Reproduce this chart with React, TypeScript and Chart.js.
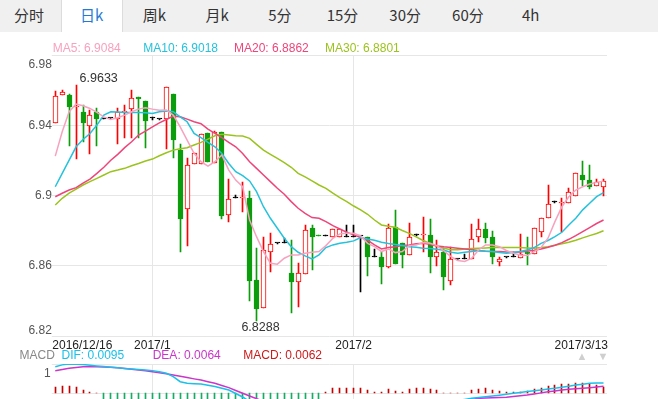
import React, { useEffect, useRef } from 'react';
import { Chart, registerables } from 'chart.js';

Chart.register(...registerables);

// ---------- data ----------
const opens = [6.9413,6.9573,6.9575,6.9510,6.9476,6.9398,6.9476,6.9440,6.9445,6.9436,
6.9480,6.9493,6.9563,6.9541,6.9442,6.9438,6.9436,6.9580,6.9261,6.8923,
6.9180,6.9180,6.9358,6.9185,6.9366,6.8891,6.8986,6.8985,6.8988,6.8518,
6.8359,6.8678,6.8729,6.8729,6.8560,6.8511,6.8552,6.8817,6.8775,6.8773,
6.8767,6.8767,6.8767,6.8767,6.8771,6.8767,6.8649,6.8649,6.8596,6.8820,
6.8730,6.8663,6.8777,6.8775,6.8777,6.8649,6.8682,6.8516,6.8640,6.8640,
6.8638,6.8763,6.8811,6.8763,6.8621,6.8649,6.8649,6.8647,6.8678,6.8666,
6.8796,6.8872,6.8965,6.8961,6.8957,6.9001,6.9119,6.9090,6.9056,6.9052];

const highs = [6.9600,6.9605,6.9579,6.9633,6.9518,6.9489,6.9503,6.9442,6.9447,6.9499,
6.9518,6.9605,6.9563,6.9541,6.9451,6.9440,6.9619,6.9580,6.9297,6.9216,
6.9242,6.9355,6.9358,6.9370,6.9366,6.9094,6.9005,6.9077,6.9030,6.8705,
6.8767,6.8786,6.8731,6.8758,6.8748,6.8615,6.8834,6.8834,6.8777,6.8775,
6.8809,6.8809,6.8834,6.8834,6.8773,6.8767,6.8695,6.8682,6.8838,6.8917,
6.8730,6.8843,6.8781,6.8881,6.8868,6.8748,6.8701,6.8710,6.8642,6.8667,
6.8840,6.8868,6.8843,6.8801,6.8653,6.8651,6.8682,6.8781,6.8767,6.8815,
6.8876,6.9062,6.8970,6.8986,6.9043,6.9128,6.9199,6.9176,6.9096,6.9096];

const lows = [6.9413,6.9573,6.9286,6.9210,6.9305,6.9238,6.9286,6.9438,6.9443,6.9294,
6.9332,6.9333,6.9328,6.9275,6.9432,6.9436,6.9267,6.9218,6.8678,6.8716,
6.9180,6.9180,6.9195,6.9185,6.8868,6.8849,6.8986,6.8906,6.8397,6.8288,
6.8359,6.8564,6.8727,6.8729,6.8330,6.8368,6.8552,6.8577,6.8768,6.8771,
6.8767,6.8767,6.8767,6.8767,6.8451,6.8545,6.8649,6.8496,6.8587,6.8611,
6.8591,6.8663,6.8771,6.8682,6.8558,6.8602,6.8463,6.8492,6.8638,6.8640,
6.8638,6.8735,6.8729,6.8610,6.8602,6.8647,6.8649,6.8647,6.8606,6.8666,
6.8767,6.8872,6.8960,6.8796,6.8957,6.9001,6.9056,6.9037,6.9056,6.9001];

const closes = [6.9569,6.9590,6.9508,6.9515,6.9417,6.9459,6.9436,6.9440,6.9445,6.9476,
6.9487,6.9556,6.9554,6.9429,6.9442,6.9438,6.9619,6.9320,6.8870,6.9174,
6.9242,6.9352,6.9195,6.9366,6.8887,6.8980,6.8986,6.8988,6.8516,6.8355,
6.8691,6.8724,6.8729,6.8729,6.8511,6.8558,6.8805,6.8767,6.8770,6.8773,
6.8809,6.8809,6.8767,6.8767,6.8771,6.8649,6.8649,6.8596,6.8815,6.8611,
6.8663,6.8767,6.8777,6.8779,6.8649,6.8682,6.8534,6.8638,6.8640,6.8640,
6.8752,6.8811,6.8762,6.8649,6.8638,6.8649,6.8649,6.8666,6.8668,6.8815,
6.8876,6.8953,6.8965,6.8965,6.9020,6.9128,6.9090,6.9052,6.9077,6.9085];

const ma5 = [6.9227,6.9366,6.9480,6.9524,6.9514,6.9499,6.9476,6.9451,6.9436,6.9446,
6.9461,6.9480,6.9495,6.9503,6.9495,6.9488,6.9490,6.9461,6.9394,6.9318,
6.9242,6.9195,6.9170,6.9195,6.9233,6.9147,6.9090,6.9052,6.8862,6.8767,
6.8682,6.8615,6.8610,6.8644,6.8663,6.8663,6.8672,6.8678,6.8682,6.8716,
6.8758,6.8783,6.8786,6.8786,6.8771,6.8729,6.8710,6.8682,6.8697,6.8676,
6.8682,6.8716,6.8720,6.8733,6.8729,6.8716,6.8686,6.8653,6.8631,6.8625,
6.8644,6.8691,6.8720,6.8720,6.8710,6.8688,6.8672,6.8663,6.8659,6.8682,
6.8705,6.8758,6.8853,6.8938,6.8995,6.9033,6.9052,6.9068,6.9077,6.9084];

const ma10 = [6.9052,6.9128,6.9204,6.9280,6.9322,6.9356,6.9404,6.9461,6.9480,6.9478,
6.9476,6.9476,6.9476,6.9474,6.9470,6.9480,6.9484,6.9480,6.9451,6.9423,
6.9356,6.9332,6.9305,6.9280,6.9242,6.9185,6.9138,6.9115,6.9085,6.9024,
6.8938,6.8872,6.8815,6.8758,6.8710,6.8678,6.8657,6.8640,6.8663,6.8705,
6.8720,6.8729,6.8735,6.8743,6.8762,6.8754,6.8747,6.8735,6.8728,6.8722,
6.8716,6.8710,6.8707,6.8701,6.8699,6.8695,6.8690,6.8678,6.8672,6.8678,
6.8682,6.8686,6.8684,6.8682,6.8676,6.8672,6.8676,6.8682,6.8691,6.8705,
6.8729,6.8745,6.8767,6.8792,6.8834,6.8872,6.8920,6.8958,6.8995,6.9018];

const ma20 = [6.8995,6.9015,6.9033,6.9047,6.9072,6.9096,6.9128,6.9163,6.9203,6.9237,
6.9275,6.9309,6.9347,6.9370,6.9394,6.9417,6.9436,6.9455,6.9451,6.9438,
6.9423,6.9412,6.9381,6.9356,6.9332,6.9305,6.9280,6.9242,6.9195,6.9157,
6.9119,6.9081,6.9043,6.9009,6.8967,6.8929,6.8900,6.8876,6.8872,6.8853,
6.8830,6.8811,6.8792,6.8777,6.8762,6.8747,6.8720,6.8697,6.8705,6.8710,
6.8716,6.8720,6.8726,6.8729,6.8724,6.8714,6.8709,6.8705,6.8701,6.8697,
6.8693,6.8688,6.8684,6.8682,6.8682,6.8680,6.8678,6.8680,6.8684,6.8690,
6.8697,6.8707,6.8718,6.8733,6.8752,6.8773,6.8796,6.8819,6.8842,6.8862];

const ma30 = [6.8948,6.8986,6.9015,6.9039,6.9062,6.9081,6.9100,6.9119,6.9138,6.9147,
6.9157,6.9172,6.9185,6.9199,6.9210,6.9229,6.9246,6.9261,6.9269,6.9275,
6.9290,6.9305,6.9324,6.9343,6.9351,6.9347,6.9343,6.9341,6.9328,6.9294,
6.9261,6.9237,6.9214,6.9189,6.9163,6.9128,6.9108,6.9085,6.9062,6.9043,
6.9015,6.8990,6.8967,6.8942,6.8920,6.8895,6.8862,6.8834,6.8826,6.8821,
6.8802,6.8786,6.8766,6.8745,6.8728,6.8712,6.8701,6.8693,6.8693,6.8697,
6.8699,6.8701,6.8703,6.8705,6.8705,6.8705,6.8705,6.8705,6.8703,6.8701,
6.8705,6.8710,6.8718,6.8726,6.8735,6.8747,6.8760,6.8773,6.8785,6.8801];

const dif = [0.0245,0.0262,0.0270,0.0268,0.0265,0.0259,0.0252,0.0246,0.0240,0.0235,
0.0229,0.0224,0.0219,0.0214,0.0209,0.0198,0.0184,0.0153,0.0107,0.0092,
0.0089,0.0086,0.0074,0.0062,0.0046,0.0030,-0.0002,-0.0034,-0.0075,-0.0120,
-0.0150,-0.0170,-0.0185,-0.0195,-0.0205,-0.0210,-0.0205,-0.0200,-0.0195,-0.0190,
-0.0182,-0.0175,-0.0167,-0.0160,-0.0153,-0.0150,-0.0148,-0.0146,-0.0140,-0.0137,
-0.0135,-0.0128,-0.0120,-0.0112,-0.0106,-0.0100,-0.0094,-0.0085,-0.0068,-0.0056,
-0.0046,-0.0039,-0.0032,-0.0025,-0.0017,-0.0008,0.0000,0.0008,0.0016,0.0024,
0.0031,0.0039,0.0046,0.0056,0.0066,0.0076,0.0084,0.0092,0.0094,0.0095];

const dea = [0.0208,0.0220,0.0230,0.0238,0.0245,0.0245,0.0244,0.0243,0.0240,0.0235,
0.0229,0.0222,0.0215,0.0207,0.0199,0.0190,0.0180,0.0169,0.0157,0.0145,
0.0133,0.0122,0.0107,0.0092,0.0072,0.0052,0.0026,0.0000,-0.0025,-0.0050,
-0.0072,-0.0092,-0.0110,-0.0125,-0.0140,-0.0152,-0.0160,-0.0167,-0.0172,-0.0175,
-0.0177,-0.0178,-0.0178,-0.0176,-0.0173,-0.0170,-0.0166,-0.0162,-0.0157,-0.0152,
-0.0147,-0.0142,-0.0136,-0.0129,-0.0122,-0.0115,-0.0108,-0.0098,-0.0085,-0.0070,
-0.0056,-0.0046,-0.0044,-0.0041,-0.0039,-0.0037,-0.0030,-0.0023,-0.0016,-0.0006,
0.0004,0.0015,0.0022,0.0030,0.0037,0.0042,0.0047,0.0052,0.0058,0.0064];

const macdHist = [0.0062,0.0071,0.0071,0.0055,0.0034,0.0016,0,-0.006,-0.008,-0.010,
-0.012,-0.013,-0.014,-0.015,-0.016,-0.017,-0.019,-0.022,-0.026,-0.028,
-0.030,-0.031,-0.032,-0.032,-0.031,-0.030,-0.028,-0.026,-0.024,-0.022,
-0.019,-0.016,-0.014,-0.012,-0.010,-0.008,-0.0075,-0.0065,-0.006,0.0015,
0.0046,0.0046,0.0052,0.0046,0.0052,0.0031,0.0015,0.0009,0.0037,0.0021,
0.0015,0.0037,0.0046,0.0046,0.0037,0.0031,0,0,0,0,
0.0031,0.0037,0.0046,0.0031,0.0021,0.0015,0.0015,0.0015,0.0021,0.0037,
0.0052,0.0067,0.0077,0.0083,0.0083,0.0092,0.0092,0.0083,0.0077,0.0062];

const priceTicks = [6.98, 6.94, 6.9, 6.86, 6.82];
const priceMin = 6.82;
const priceMax = 6.98;
const macdMin = -0.00525;
const macdMax = 0.027;
const dateTickLabels = ['2016/12/16', '2017/1', '2017/2', '2017/3/13'];
const dateTickIndex = [0, 14, 43, 79];
const monthGridIndex = [14, 43];
const maNames = ['MA5', 'MA10', 'MA20', 'MA30'];
const maLatest = ['6.9084', '6.9018', '6.8862', '6.8801'];
const macdNames = ['DIF', 'DEA', 'MACD'];
const macdLatest = ['0.0095', '0.0064', '0.0062'];
const tabLabels = ['分时', '日k', '周k', '月k', '5分', '15分', '30分', '60分', '4h'];
const selectedTab = 1;

// ---------- styles ----------
const SANS = '"Liberation Sans", Arial, Helvetica, sans-serif';
const CJK = '"Noto Sans CJK SC", "Microsoft YaHei", sans-serif';
const maColors = ['#f7a2be', '#25c2dc', '#ee457b', '#9bc31d'];
const macdColors = ['#1bc0ea', '#c936c9', '#cc1a1a'];
const UP = '#ff0000';
const DOWN = '#0c9d0c';
const FLAT = '#000000';
const PAD = { left: 51.8, right: 51 };

const candleColors = opens.map((o, i) => (closes[i] > o ? UP : closes[i] < o ? DOWN : FLAT));
const bodyFill = opens.map((o, i) => (closes[i] > o ? '#ffffff' : candleColors[i]));

// snap bar elements (computed by the scales) to whole pixels for crisp candles
const snapBars = {
  id: 'snapBars',
  beforeDatasetsDraw(chart: any) {
    chart.getSortedVisibleDatasetMetas().forEach((meta: any) => {
      if (meta.type !== 'bar') return;
      meta.data.forEach((el: any) => {
        el.x = Math.floor(el.x) + 0.5;
        const lo = Math.min(el.y, el.base);
        const hi = Math.max(el.y, el.base);
        const raw = hi - lo;
        const top = Math.round(lo);
        let bottom = Math.round(hi);
        if (raw >= 0.5 && bottom - top < 1) bottom = top + 1;
        el.y = top;
        el.base = bottom;
      });
    });
  },
};

const mainDecor = {
  id: 'mainDecor',
  beforeDatasetsDraw(chart: any) {
    const { ctx, chartArea: a, scales } = chart;
    const x = scales.x;
    const y = scales.y;
    ctx.save();
    ctx.strokeStyle = '#e6e6e6';
    ctx.lineWidth = 1;
    ctx.beginPath();
    for (const v of priceTicks) {
      const py = Math.floor(y.getPixelForValue(v)) + 0.5;
      ctx.moveTo(a.left, py);
      ctx.lineTo(a.right, py);
    }
    for (const i of monthGridIndex) {
      const px = Math.floor(x.getPixelForValue(i)) + 0.5;
      ctx.moveTo(px, a.top);
      ctx.lineTo(px, a.bottom);
    }
    ctx.stroke();
    ctx.restore();
  },
  afterDraw(chart: any) {
    const { ctx, chartArea: a, scales } = chart;
    const x = scales.x;
    const y = scales.y;
    ctx.save();
    ctx.font = '12px ' + SANS;
    ctx.fillStyle = '#555';
    ctx.textAlign = 'right';
    for (const v of priceTicks) {
      const py = y.getPixelForValue(v);
      const label = String(v);
      if (v === priceMax) {
        ctx.textBaseline = 'alphabetic';
        ctx.fillText(label, a.left, py + 12.6);
      } else if (v === priceMin) {
        ctx.textBaseline = 'alphabetic';
        ctx.fillText(label, a.left, py - 2);
      } else {
        ctx.textBaseline = 'middle';
        ctx.fillText(label, a.left, py);
      }
    }
    // date labels
    ctx.fillStyle = '#222';
    ctx.textBaseline = 'alphabetic';
    dateTickLabels.forEach((t, k) => {
      const idx = dateTickIndex[k];
      if (k === 0) {
        ctx.textAlign = 'left';
        ctx.fillText(t, a.left + 0.5, a.bottom + 13);
      } else if (k === dateTickLabels.length - 1) {
        ctx.textAlign = 'right';
        ctx.fillText(t, a.right + 1, a.bottom + 13);
      } else {
        ctx.textAlign = 'center';
        ctx.fillText(t, x.getPixelForValue(idx), a.bottom + 13);
      }
    });
    // high / low marks
    const hi = Math.max(...highs);
    const lo = Math.min(...lows);
    const hiIdx = highs.indexOf(hi);
    const loIdx = lows.indexOf(lo);
    ctx.fillStyle = '#333';
    ctx.font = '12.5px ' + SANS;
    ctx.textAlign = 'left';
    ctx.fillText(hi.toFixed(4), x.getPixelForValue(hiIdx) + 3.5, y.getPixelForValue(hi) - 3);
    ctx.textAlign = 'center';
    ctx.fillText(lo.toFixed(4), x.getPixelForValue(loIdx) + 4, y.getPixelForValue(lo) + 10.5);
    ctx.restore();
  },
};

const macdDecor = {
  id: 'macdDecor',
  beforeDatasetsDraw(chart: any) {
    const { ctx, chartArea: a, scales } = chart;
    const x = scales.x;
    const y = scales.y;
    ctx.save();
    ctx.strokeStyle = '#e6e6e6';
    ctx.lineWidth = 1;
    ctx.beginPath();
    const top = Math.floor(a.top) + 0.5;
    ctx.moveTo(a.left, top);
    ctx.lineTo(a.right, top);
    const zy = Math.floor(y.getPixelForValue(0)) + 0.5;
    ctx.moveTo(a.left, zy);
    ctx.lineTo(a.right, zy);
    for (const i of monthGridIndex) {
      const px = Math.floor(x.getPixelForValue(i)) + 0.5;
      ctx.moveTo(px, a.top);
      ctx.lineTo(px, a.bottom);
    }
    ctx.stroke();
    ctx.restore();
  },
};

function lineDs(data: number[], color: string) {
  return {
    type: 'line',
    data,
    borderColor: color,
    borderWidth: 1.5,
    pointRadius: 0,
    tension: 0,
    fill: false,
  };
}

export default function App() {
  const mainRef = useRef<HTMLCanvasElement | null>(null);
  const macdRef = useRef<HTMLCanvasElement | null>(null);

  useEffect(() => {
    const labels = opens.map((_, i) => String(i));
    const main = new Chart(mainRef.current as HTMLCanvasElement, {
      type: 'bar',
      data: {
        labels,
        datasets: [
          lineDs(ma5, maColors[0]),
          lineDs(ma10, maColors[1]),
          lineDs(ma20, maColors[2]),
          lineDs(ma30, maColors[3]),
          {
            type: 'bar',
            data: opens.map((o, i) => [o, closes[i]]),
            backgroundColor: bodyFill,
            borderColor: candleColors,
            borderWidth: 1,
            borderSkipped: false,
            barThickness: 5,
            minBarLength: 1,
            grouped: false,
          },
          {
            type: 'bar',
            data: lows.map((l, i) => [l, highs[i]]),
            backgroundColor: candleColors,
            borderWidth: 0,
            barThickness: 1,
            grouped: false,
          },
        ] as any,
      },
      options: {
        responsive: false,
        animation: false,
        devicePixelRatio: 1,
        events: [],
        layout: { padding: { top: 55.7, bottom: 63, left: PAD.left, right: PAD.right } },
        plugins: { legend: { display: false }, tooltip: { enabled: false } },
        scales: {
          x: { type: 'category', display: false, offset: true },
          y: { type: 'linear', display: false, min: priceMin, max: priceMax },
        },
      } as any,
      plugins: [mainDecor, snapBars],
    });

    const macd = new Chart(macdRef.current as HTMLCanvasElement, {
      type: 'bar',
      data: {
        labels,
        datasets: [
          lineDs(dif, macdColors[0]),
          lineDs(dea, macdColors[1]),
          {
            type: 'bar',
            data: macdHist,
            backgroundColor: macdHist.map((v) => (v >= 0 ? '#c40000' : '#19aa66')),
            borderWidth: 0,
            barThickness: 1,
            grouped: false,
          },
        ] as any,
      },
      options: {
        responsive: false,
        animation: false,
        devicePixelRatio: 1,
        events: [],
        layout: { padding: { top: 364, bottom: 0, left: PAD.left, right: PAD.right } },
        plugins: { legend: { display: false }, tooltip: { enabled: false } },
        scales: {
          x: { type: 'category', display: false, offset: true },
          y: { type: 'linear', display: false, min: macdMin, max: macdMax },
        },
      } as any,
      plugins: [macdDecor, snapBars],
    });

    return () => {
      main.destroy();
      macd.destroy();
    };
  }, []);

  const tabW = 62.7;
  const tabCenter = (i: number) => 29 + tabW * i;
  const maLeft = [52.7, 143.3, 234, 325];
  const macdLeft = [61.5, 152.7, 243.3];

  const text = (cy: number) => ({ position: 'absolute' as const, top: cy - 6.9, lineHeight: '14px', fontSize: 12, whiteSpace: 'nowrap' as const });

  return (
    <div style={{ position: 'fixed', left: 0, top: 0, width: 658, height: 399, background: '#fff', overflow: 'hidden', fontFamily: SANS }}>
      <canvas ref={mainRef} width={658} height={399} style={{ position: 'absolute', left: 0, top: 0, width: 658, height: 399 }} />
      <canvas ref={macdRef} width={658} height={399} style={{ position: 'absolute', left: 0, top: 0, width: 658, height: 399 }} />

      <div style={{ position: 'absolute', left: 0, top: 0, width: 658, height: 32, background: '#f0f0f0' }}>
        <div style={{ position: 'absolute', left: tabCenter(selectedTab) - 31, top: 0, width: 62, height: 32, background: '#fff', borderLeft: '1px solid #dcdcdc', borderRight: '1px solid #dcdcdc', boxSizing: 'border-box' }} />
        {tabLabels.map((t, i) => (
          <span key={t} style={{ position: 'absolute', left: tabCenter(i) - 31, width: 62, top: 0, height: 32, lineHeight: '30px', textAlign: 'center', fontFamily: CJK, fontSize: 15, color: i === selectedTab ? '#1f7bd4' : '#333' }}>
            {t}
          </span>
        ))}
      </div>

      {maNames.map((n, i) => (
        <span key={n} style={{ ...text(47.7), left: maLeft[i], color: maColors[i] }}>
          {n}: {maLatest[i]}
        </span>
      ))}

      <span style={{ ...text(355), left: 19.5, color: '#888' }}>MACD</span>
      {macdNames.map((n, i) => (
        <span key={n} style={{ ...text(355), left: macdLeft[i], color: macdColors[i] }}>
          {n}: {macdLatest[i]}
        </span>
      ))}
      <span style={{ ...text(373.3), left: 30, width: 20.7, textAlign: 'right', color: '#555' }}>1</span>
      <span style={{ ...text(355.5), left: 576.5, fontSize: 11, color: '#cfcfcf' }}>▲</span>
      <span style={{ ...text(355.5), left: 597.5, fontSize: 11, color: '#cfcfcf' }}>▼</span>
    </div>
  );
}
